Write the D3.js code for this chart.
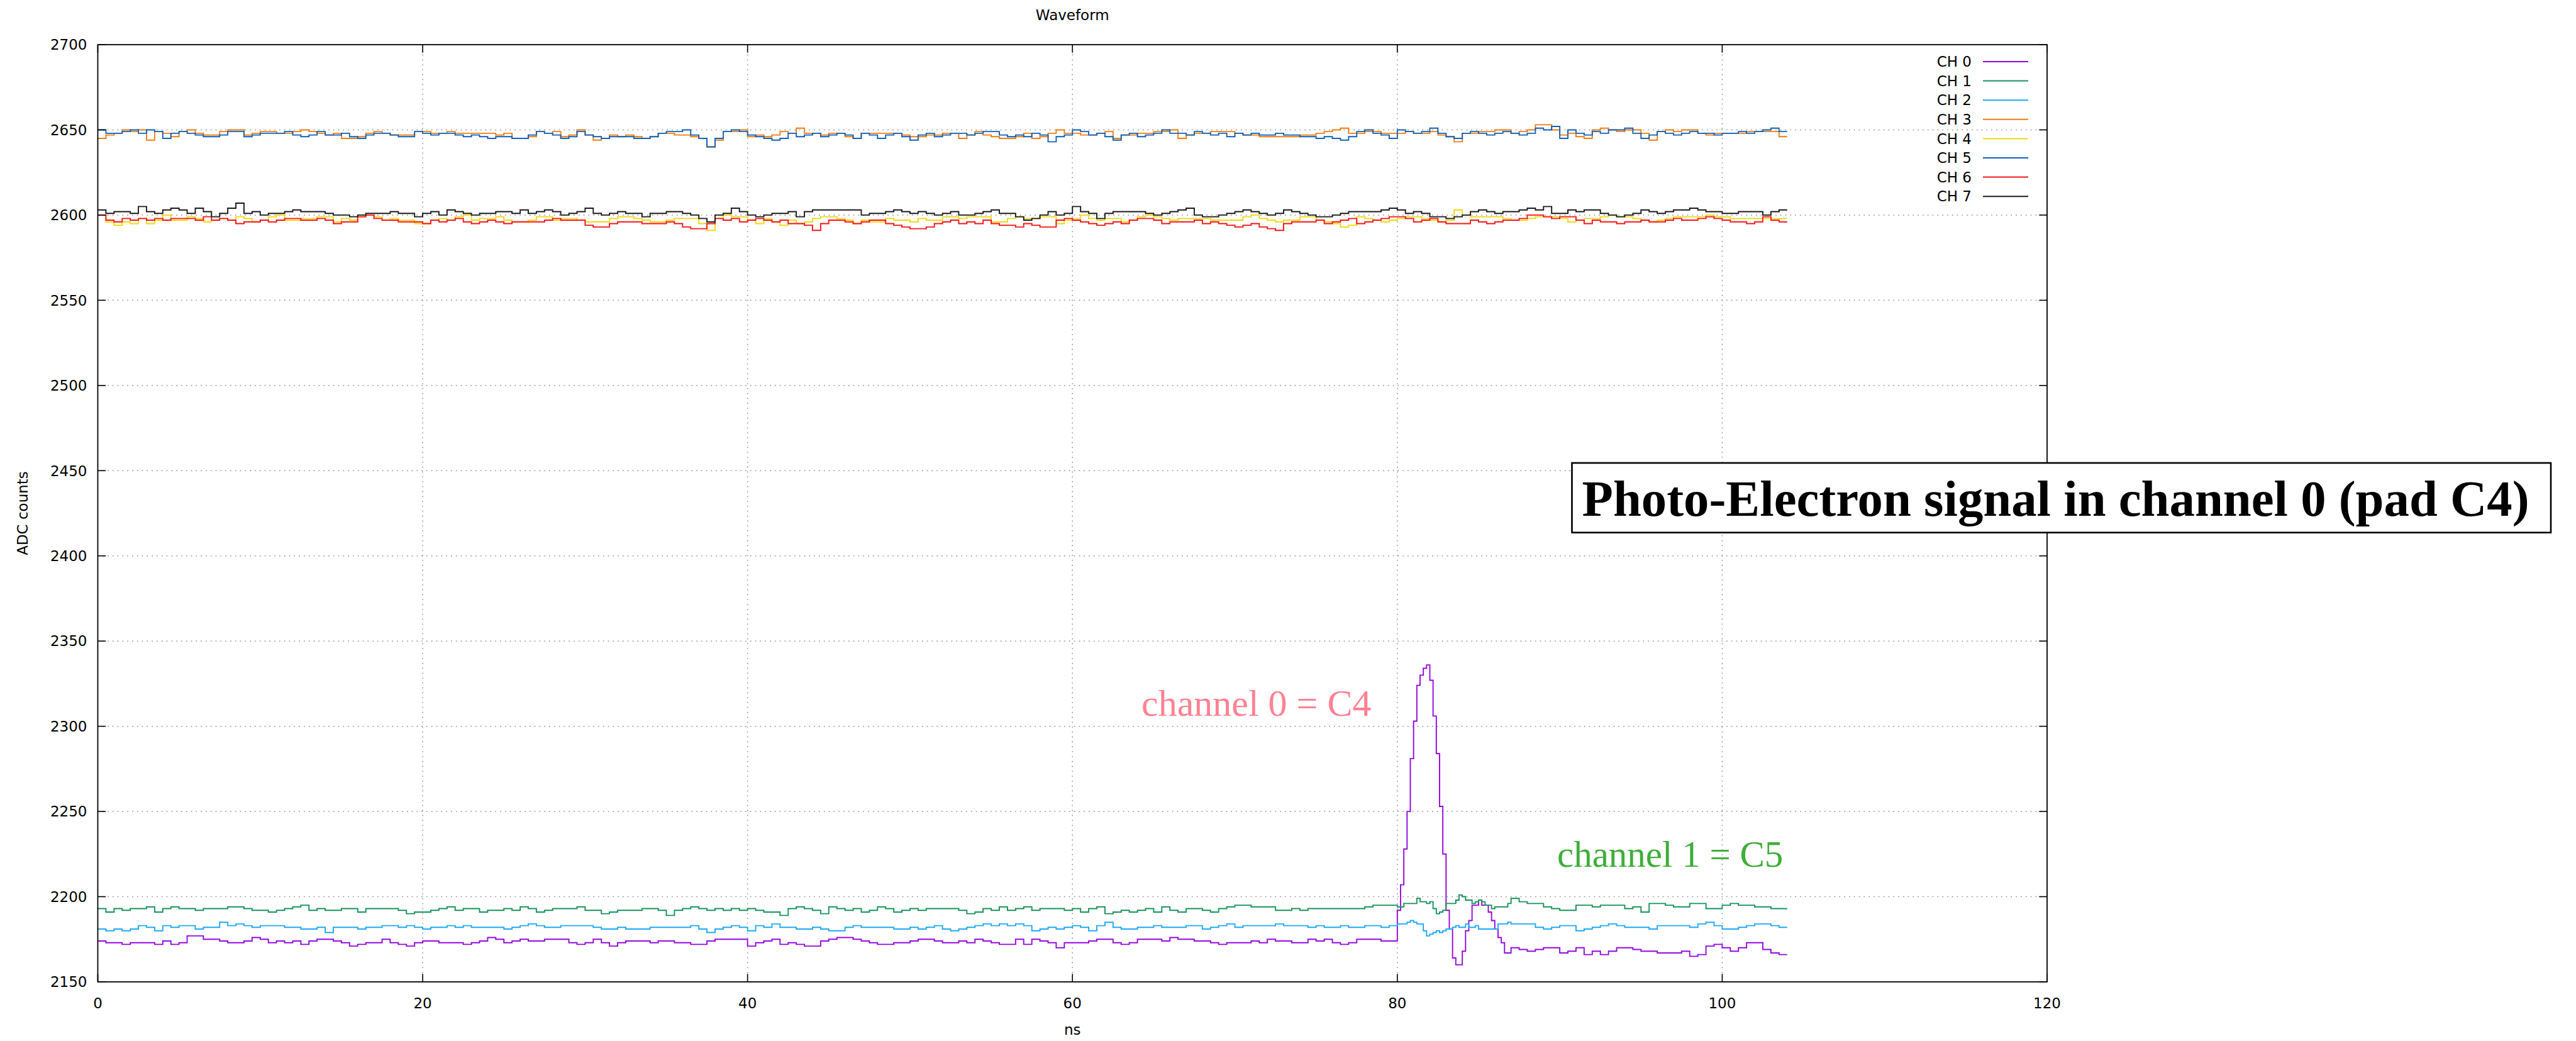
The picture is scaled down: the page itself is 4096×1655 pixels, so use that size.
<!DOCTYPE html>
<html>
<head>
<meta charset="utf-8">
<script src="https://cdnjs.cloudflare.com/ajax/libs/d3/7.8.5/d3.min.js"></script>
<style>
  html, body { margin: 0; padding: 0; background: #fff; }
  svg { display: block; }
</style>
</head>
<body>
<svg id="chart" width="4096" height="1655"></svg>
<script>
// axis ticks
var xTicks = [0, 20, 40, 60, 80, 100, 120];
var yTicks = [2150, 2200, 2250, 2300, 2350, 2400, 2450, 2500, 2550, 2600, 2650, 2700];

var channelNames = ["CH 0", "CH 1", "CH 2", "CH 3", "CH 4", "CH 5", "CH 6", "CH 7"];

// samples every 0.5 ns from 0 to 103.5 ns; null where the fine 0.2 ns pulse data takes over
var COARSE_STEP = 0.5;
var FINE_STEP = 0.2;
var FINE_START = 80;
var END_TIME = 104;

var ch0 = [
  2174, 2173, 2173, 2172, 2173, 2173, 2173, 2172, 2174, 2172,
  2173, 2177, 2177, 2175, 2175, 2174, 2173, 2173, 2174, 2176,
  2175, 2173, 2174, 2173, 2174, 2172, 2174, 2175, 2175, 2174,
  2173, 2171, 2172, 2173, 2173, 2175, 2173, 2172, 2171, 2173,
  2174, 2174, 2173, 2173, 2173, 2172, 2173, 2174, 2176, 2175,
  2173, 2174, 2175, 2174, 2174, 2175, 2175, 2175, 2173, 2172,
  2173, 2175, 2173, 2171, 2173, 2174, 2174, 2174, 2173, 2174,
  2174, 2173, 2173, 2172, 2172, 2174, 2175, 2175, 2175, 2175,
  2171, 2173, 2174, 2175, 2172,
  2173, 2172, 2171, 2171, 2174, 2175, 2176, 2176, 2175, 2174,
  2173, 2172, 2172, 2173, 2173, 2174, 2175, 2175, 2174, 2173,
  2173, 2174, 2173, 2175, 2174, 2173, 2172, 2172, 2175, 2172,
  2175, 2174, 2173, 2170, 2173, 2173, 2173, 2174, 2175, 2175,
  2173, 2172, 2173, 2175, 2175, 2175, 2174, 2176, 2175, 2175,
  2174, 2174, 2173, 2172, 2173, 2173, 2173, 2174, 2173, 2175,
  2174, 2174, 2173, 2173, 2175, 2174, 2175, 2173, 2172, 2173,
  2175, 2175, 2175, 2174, 2174,
  null, null, null, null, null, null, null, null, null, null, null, null, null, null,
  2170, 2169, 2168, 2169, 2170, 2170, 2167, 2168, 2170, 2166,
  2168, 2166, 2168, 2170, 2170, 2169, 2168, 2168, 2167, 2167,
  2167, 2168, 2165, 2166, 2171, 2172, 2170, 2168, 2170, 2173,
  2173, 2169, 2167, 2166
];
var ch0Fine = [
  2192, 2207, 2228, 2250, 2281, 2303, 2324, 2330, 2334, 2336,
  2327, 2306, 2284, 2253, 2225, 2192, 2181, 2164, 2160, 2160,
  2168, 2180, 2186, 2195, 2195, 2198, 2195, 2195, 2191, 2186,
  2181, 2176, 2173, 2167, 2167
];

var ch1 = [
  2193, 2191, 2193, 2192, 2193, 2193, 2194, 2191, 2193, 2194,
  2193, 2193, 2192, 2193, 2193, 2193, 2194, 2194, 2193, 2192,
  2192, 2191, 2192, 2193, 2194, 2195, 2192, 2193, 2192, 2192,
  2193, 2193, 2191, 2193, 2193, 2193, 2193, 2192, 2190, 2191,
  2191, 2192, 2193, 2194, 2192, 2193, 2193, 2191, 2192, 2192,
  2193, 2192, 2194, 2193, 2191, 2192, 2193, 2193, 2193, 2194,
  2192, 2192, 2190, 2191, 2192, 2192, 2192, 2193, 2193, 2192,
  2189, 2192, 2193, 2194, 2193, 2192, 2193, 2192, 2193, 2192,
  2193, 2192, 2191, 2191, 2189,
  2193, 2194, 2193, 2192, 2190, 2194, 2193, 2192, 2193, 2191,
  2192, 2194, 2193, 2191, 2192, 2193, 2192, 2193, 2193, 2193,
  2193, 2192, 2190, 2191, 2193, 2192, 2194, 2192, 2193, 2194,
  2192, 2193, 2193, 2193, 2192, 2193, 2191, 2193, 2194, 2190,
  2191, 2192, 2191, 2192, 2193, 2191, 2194, 2192, 2191, 2193,
  2193, 2192, 2191, 2193, 2194, 2195, 2195, 2194, 2194, 2194,
  2192, 2192, 2193, 2192, 2193, 2193, 2193, 2193, 2193, 2193,
  2193, 2194, 2195, 2195, 2195,
  null, null, null, null, null, null, null, null, null, null, null, null, null, null,
  2199, 2197, 2196, 2196, 2194, 2193, 2192, 2192, 2195, 2195,
  2194, 2195, 2195, 2195, 2193, 2194, 2191, 2196, 2196, 2195,
  2194, 2194, 2196, 2196, 2193, 2193, 2195, 2196, 2195, 2195,
  2194, 2194, 2193, 2193
];
var ch1Fine = [
  2194, 2194, 2196, 2196, 2196, 2196, 2199, 2197, 2197, 2196,
  2197, 2193, 2190, 2191, 2192, 2196, 2196, 2196, 2198, 2201,
  2200, 2198, 2198, 2196, 2197, 2198, 2197, 2195, 2195, 2193,
  2194, 2194, 2194, 2194, 2196
];

var ch2 = [
  2181, 2180, 2181, 2180, 2181, 2183, 2182, 2180, 2183, 2182,
  2183, 2183, 2181, 2182, 2182, 2185, 2183, 2184, 2183, 2182,
  2183, 2183, 2183, 2182, 2182, 2181, 2181, 2182, 2179, 2182,
  2182, 2182, 2181, 2182, 2182, 2183, 2183, 2182, 2183, 2182,
  2181, 2182, 2182, 2183, 2182, 2183, 2182, 2182, 2182, 2182,
  2181, 2182, 2183, 2184, 2183, 2182, 2182, 2183, 2183, 2183,
  2183, 2182, 2181, 2181, 2182, 2181, 2181, 2181, 2182, 2182,
  2182, 2182, 2182, 2183, 2181, 2179, 2181, 2182, 2183, 2182,
  2180, 2183, 2182, 2184, 2182,
  2182, 2181, 2181, 2182, 2181, 2180, 2180, 2182, 2183, 2182,
  2182, 2182, 2182, 2181, 2181, 2182, 2181, 2182, 2183, 2181,
  2180, 2181, 2182, 2183, 2184, 2183, 2184, 2183, 2184, 2183,
  2180, 2181, 2182, 2181, 2182, 2183, 2182, 2180, 2183, 2185,
  2182, 2181, 2181, 2182, 2182, 2183, 2182, 2182, 2182, 2183,
  2183, 2181, 2182, 2183, 2184, 2182, 2183, 2183, 2183, 2183,
  2184, 2183, 2183, 2183, 2182, 2183, 2182, 2182, 2183, 2182,
  2182, 2183, 2183, 2182, 2183,
  null, null, null, null, null, null, null, null, null, null, null, null, null, null,
  2184, 2184, 2184, 2182, 2181, 2182, 2183, 2183, 2180, 2181,
  2182, 2183, 2184, 2183, 2182, 2182, 2182, 2181, 2183, 2183,
  2183, 2183, 2182, 2184, 2185, 2183, 2181, 2181, 2182, 2183,
  2184, 2184, 2183, 2182
];
var ch2Fine = [
  2184, 2184, 2184, 2185, 2186, 2185, 2184, 2184, 2180, 2177,
  2178, 2179, 2180, 2179, 2180, 2181, 2181, 2182, 2183, 2182,
  2182, 2184, 2182, 2182, 2183, 2181, 2181, 2181, 2181, 2181,
  2181, 2184, 2184, 2184, 2185
];

var ch3 = [
  2645, 2647, 2648, 2650, 2649, 2650, 2644, 2649, 2648, 2646,
  2649, 2650, 2648, 2647, 2647, 2649, 2650, 2650, 2647, 2648,
  2649, 2649, 2648, 2648, 2649, 2650, 2649, 2648, 2647, 2648,
  2645, 2645, 2646, 2648, 2649, 2648, 2647, 2647, 2647, 2649,
  2649, 2648, 2648, 2649, 2648, 2648, 2648, 2648, 2648, 2647,
  2648, 2645, 2645, 2646, 2649, 2648, 2649, 2646, 2647, 2650,
  2647, 2644, 2645, 2647, 2646, 2647, 2646, 2645, 2646, 2648,
  2648, 2647, 2647, 2646, 2645, 2640, 2644, 2649, 2649, 2650,
  2646, 2647, 2646, 2647, 2649,
  2648, 2651, 2648, 2648, 2647, 2648, 2648, 2646, 2645, 2648,
  2648, 2648, 2648, 2648, 2647, 2646, 2646, 2647, 2647, 2648,
  2648, 2645, 2647, 2649, 2647, 2646, 2645, 2645, 2646, 2648,
  2645, 2646, 2648, 2650, 2648, 2648, 2647, 2647, 2648, 2649,
  2645, 2647, 2647, 2648, 2648, 2649, 2649, 2650, 2645, 2647,
  2648, 2648, 2649, 2649, 2649, 2648, 2647, 2647, 2646, 2646,
  2646, 2646, 2646, 2647, 2647, 2648, 2649, 2650, 2651, 2648,
  2648, 2649, 2649, 2648, 2648, 2648, 2649, 2648, 2648, 2649,
  2647, 2646, 2643, 2648, 2648, 2649, 2649, 2650, 2650, 2648,
  2649, 2650, 2653, 2653, 2650, 2647, 2648, 2646, 2645, 2650,
  2651, 2650, 2649, 2650, 2650, 2648, 2644, 2649, 2650, 2649,
  2650, 2650, 2648, 2647, 2648, 2648, 2648, 2648, 2649, 2649,
  2649, 2649, 2646
];

var ch4 = [
  2600, 2596, 2594, 2596, 2595, 2598, 2595, 2597, 2600, 2597,
  2597, 2599, 2598, 2596, 2597, 2598, 2597, 2599, 2598, 2596,
  2597, 2599, 2600, 2597, 2597, 2598, 2598, 2599, 2599, 2596,
  2598, 2597, 2599, 2600, 2599, 2597, 2598, 2597, 2597, 2595,
  2595, 2597, 2598, 2597, 2599, 2600, 2597, 2598, 2598, 2599,
  2597, 2596, 2596, 2597, 2599, 2599, 2597, 2598, 2598, 2597,
  2596, 2596, 2596, 2598, 2599, 2599, 2598, 2597, 2596, 2596,
  2597, 2598, 2598, 2598, 2595, 2591, 2598, 2600, 2599, 2599,
  2597, 2595, 2598, 2596, 2594,
  2597, 2595, 2596, 2598, 2599, 2599, 2598, 2597, 2595, 2597,
  2596, 2596, 2598, 2597, 2597, 2596, 2598, 2597, 2597, 2599,
  2599, 2598, 2599, 2599, 2599, 2596, 2596, 2598, 2599, 2598,
  2598, 2599, 2599, 2595, 2597, 2598, 2600, 2598, 2597, 2598,
  2598, 2596, 2597, 2599, 2600, 2599, 2598, 2597, 2598, 2598,
  2598, 2598, 2597, 2597, 2597, 2597, 2599, 2600, 2598, 2597,
  2596, 2597, 2597, 2599, 2599, 2597, 2596, 2595, 2593, 2594,
  2599, 2598, 2597, 2596, 2597, 2598, 2599, 2599, 2598, 2597,
  2596, 2597, 2603, 2600, 2599, 2599, 2599, 2599, 2598, 2597,
  2597, 2598, 2599, 2599, 2599, 2598, 2596, 2597, 2598, 2598,
  2599, 2600, 2599, 2599, 2598, 2597, 2596, 2597, 2598, 2599,
  2599, 2599, 2599, 2600, 2599, 2599, 2598, 2598, 2598, 2598,
  2598, 2598, 2598
];

var ch5 = [
  2650, 2648, 2648, 2649, 2650, 2648, 2650, 2649, 2645, 2648,
  2649, 2648, 2647, 2646, 2646, 2647, 2649, 2649, 2646, 2647,
  2648, 2648, 2648, 2649, 2647, 2646, 2647, 2649, 2647, 2647,
  2648, 2646, 2645, 2647, 2648, 2648, 2647, 2646, 2646, 2649,
  2648, 2647, 2648, 2648, 2647, 2646, 2647, 2646, 2645, 2646,
  2646, 2645, 2645, 2647, 2649, 2648, 2647, 2645, 2646, 2649,
  2647, 2646, 2645, 2646, 2646, 2646, 2645, 2645, 2646, 2648,
  2649, 2649, 2650, 2647, 2645, 2640, 2645, 2649, 2650, 2649,
  2647, 2646, 2645, 2644, 2645,
  2648, 2646, 2647, 2648, 2646, 2647, 2648, 2647, 2645, 2648,
  2647, 2645, 2647, 2648, 2646, 2644, 2647, 2648, 2646, 2647,
  2648, 2648, 2647, 2648, 2649, 2649, 2647, 2646, 2647, 2646,
  2648, 2647, 2643, 2646, 2647, 2650, 2649, 2647, 2648, 2646,
  2644, 2647, 2648, 2646, 2647, 2648, 2650, 2648, 2648, 2647,
  2649, 2648, 2647, 2648, 2646, 2648, 2647, 2648, 2647, 2647,
  2648, 2647, 2647, 2646, 2646, 2645, 2646, 2645, 2644, 2646,
  2649, 2650, 2648, 2647, 2645, 2650, 2649, 2648, 2649, 2651,
  2648, 2646, 2645, 2648, 2649, 2648, 2647, 2648, 2649, 2648,
  2647, 2648, 2651, 2650, 2652, 2645, 2650, 2648, 2647, 2649,
  2648, 2650, 2650, 2651, 2648, 2645, 2647, 2649, 2648, 2647,
  2648, 2649, 2648, 2648, 2647, 2648, 2648, 2649, 2648, 2649,
  2650, 2651, 2649
];

var ch6 = [
  2600, 2597, 2596, 2598, 2597, 2598, 2597, 2598, 2597, 2598,
  2598, 2598, 2597, 2599, 2597, 2598, 2597, 2595, 2596, 2596,
  2597, 2596, 2597, 2598, 2598, 2597, 2597, 2598, 2597, 2595,
  2596, 2596, 2599, 2600, 2598, 2597, 2597, 2596, 2596, 2596,
  2595, 2597, 2596, 2597, 2598, 2596, 2595, 2596, 2597, 2596,
  2595, 2596, 2596, 2596, 2596, 2597, 2598, 2597, 2597, 2597,
  2594, 2593, 2593, 2595, 2596, 2596, 2596, 2595, 2595, 2595,
  2596, 2595, 2593, 2592, 2592, 2595, 2598, 2597, 2598, 2596,
  2597, 2598, 2597, 2596, 2597,
  2595, 2595, 2594, 2591, 2595, 2597, 2597, 2596, 2595, 2596,
  2597, 2597, 2595, 2594, 2593, 2592, 2592, 2593, 2595, 2596,
  2597, 2595, 2596, 2595, 2597, 2595, 2594, 2594, 2593, 2595,
  2594, 2593, 2593, 2597, 2598, 2597, 2596, 2595, 2594, 2595,
  2596, 2595, 2597, 2598, 2598, 2597, 2595, 2596, 2596, 2596,
  2597, 2595, 2596, 2595, 2594, 2593, 2594, 2595, 2593, 2592,
  2591, 2595, 2596, 2596, 2596, 2597, 2595, 2596, 2597, 2598,
  2595, 2596, 2597, 2598, 2599, 2599, 2598, 2596, 2597, 2598,
  2596, 2595, 2595, 2595, 2597, 2596, 2595, 2596, 2597, 2597,
  2598, 2600, 2600, 2599, 2598, 2599, 2599, 2597, 2595, 2597,
  2596, 2596, 2595, 2596, 2596, 2597, 2596, 2596, 2597, 2598,
  2597, 2597, 2598, 2599, 2598, 2597, 2596, 2596, 2595, 2596,
  2599, 2597, 2596
];

var ch7 = [
  2603, 2601, 2602, 2602, 2601, 2605, 2602, 2601, 2603, 2604,
  2603, 2601, 2604, 2602, 2599, 2601, 2604, 2607, 2601, 2602,
  2600, 2601, 2601, 2602, 2603, 2602, 2602, 2602, 2601, 2600,
  2600, 2599, 2600, 2601, 2601, 2601, 2602, 2601, 2601, 2599,
  2601, 2602, 2600, 2603, 2602, 2601, 2600, 2601, 2601, 2602,
  2602, 2601, 2603, 2601, 2602, 2603, 2602, 2600, 2601, 2602,
  2604, 2601, 2600, 2601, 2602, 2601, 2601, 2599, 2601, 2601,
  2602, 2602, 2601, 2600, 2598, 2596, 2600, 2601, 2604, 2602,
  2600, 2599, 2600, 2601, 2601,
  2602, 2599, 2602, 2603, 2603, 2603, 2603, 2603, 2603, 2600,
  2601, 2601, 2602, 2603, 2602, 2601, 2602, 2601, 2600, 2601,
  2602, 2600, 2600, 2601, 2602, 2603, 2601, 2601, 2599, 2597,
  2598, 2600, 2602, 2600, 2601, 2605, 2602, 2601, 2598, 2601,
  2602, 2602, 2602, 2602, 2601, 2600, 2601, 2602, 2603, 2604,
  2600, 2599, 2599, 2600, 2601, 2602, 2603, 2602, 2601, 2600,
  2601, 2603, 2602, 2601, 2600, 2599, 2599, 2600, 2601, 2602,
  2602, 2602, 2602, 2603, 2604, 2603, 2601, 2602, 2601, 2599,
  2599, 2598, 2599, 2600, 2602, 2603, 2602, 2601, 2602, 2602,
  2603, 2604, 2603, 2605, 2601, 2601, 2603, 2602, 2603, 2603,
  2601, 2600, 2599, 2600, 2601, 2603, 2602, 2601, 2602, 2603,
  2603, 2604, 2603, 2602, 2602, 2601, 2601, 2602, 2602, 2602,
  2600, 2602, 2603
];

var channels = [
  { name: channelNames[0], coarse: ch0, fine: ch0Fine, color: "#9208de" },
  { name: channelNames[1], coarse: ch1, fine: ch1Fine, color: "#15935a" },
  { name: channelNames[2], coarse: ch2, fine: ch2Fine, color: "#1ea8f4" },
  { name: channelNames[3], coarse: ch3, fine: null, color: "#f07d12" },
  { name: channelNames[4], coarse: ch4, fine: null, color: "#f2d80c" },
  { name: channelNames[5], coarse: ch5, fine: null, color: "#1261b8" },
  { name: channelNames[6], coarse: ch6, fine: null, color: "#fa1414" },
  { name: channelNames[7], coarse: ch7, fine: null, color: "#1a1a1a" }
];

function buildSeries(coarse, fine) {
  var pts = [];
  coarse.forEach(function (v, i) {
    if (v !== null) pts.push([i * COARSE_STEP, v]);
  });
  if (fine) {
    fine.forEach(function (v, j) {
      pts.push([FINE_START + j * FINE_STEP, v]);
    });
  }
  pts.sort(function (a, b) { return a[0] - b[0]; });
  pts.push([END_TIME, pts[pts.length - 1][1]]);
  return pts;
}

var svg = d3.select("#chart");
var plot = { left: 155.5, top: 71, right: 3255, bottom: 1561 };
var fontSans = "'DejaVu Sans', sans-serif";

var x = d3.scaleLinear().domain([0, 120]).range([plot.left, plot.right]);
var y = d3.scaleLinear().domain([2150, 2700]).range([plot.bottom, plot.top]);

svg.append("rect").attr("width", 4096).attr("height", 1655).attr("fill", "#fff");

// grid
var grid = svg.append("g").attr("stroke", "#8a8a8a").attr("stroke-width", 1.5)
  .attr("stroke-dasharray", "1.6,6.2");
grid.selectAll("line.gx").data(xTicks.slice(1, -1)).enter().append("line")
  .attr("x1", function (d) { return x(d); }).attr("x2", function (d) { return x(d); })
  .attr("y1", plot.top).attr("y2", plot.bottom);
grid.selectAll("line.gy").data(yTicks.slice(1, -1)).enter().append("line")
  .attr("y1", function (d) { return y(d); }).attr("y2", function (d) { return y(d); })
  .attr("x1", plot.left).attr("x2", plot.right);

// waveforms
var line = d3.line()
  .x(function (d) { return x(d[0]); })
  .y(function (d) { return y(d[1]); })
  .curve(d3.curveStepAfter);

svg.append("g").selectAll("path").data(channels).enter().append("path")
  .attr("fill", "none")
  .attr("stroke", function (d) { return d.color; })
  .attr("stroke-width", 1.9)
  .attr("d", function (d) { return line(buildSeries(d.coarse, d.fine)); });

// border and inward ticks on all sides
var tickLen = 12.7;
var ticks = svg.append("g").attr("stroke", "#000").attr("stroke-width", 1.6);
xTicks.forEach(function (t) {
  ticks.append("line").attr("x1", x(t)).attr("x2", x(t)).attr("y1", plot.bottom).attr("y2", plot.bottom - tickLen);
  ticks.append("line").attr("x1", x(t)).attr("x2", x(t)).attr("y1", plot.top).attr("y2", plot.top + tickLen);
});
yTicks.forEach(function (t) {
  ticks.append("line").attr("y1", y(t)).attr("y2", y(t)).attr("x1", plot.left).attr("x2", plot.left + tickLen);
  ticks.append("line").attr("y1", y(t)).attr("y2", y(t)).attr("x1", plot.right).attr("x2", plot.right - tickLen);
});
svg.append("rect")
  .attr("x", plot.left).attr("y", plot.top)
  .attr("width", plot.right - plot.left).attr("height", plot.bottom - plot.top)
  .attr("fill", "none").attr("stroke", "#000").attr("stroke-width", 1.8);

// tick labels
svg.append("g").selectAll("text").data(xTicks).enter().append("text")
  .attr("x", function (d) { return x(d); })
  .attr("y", 1595).attr("dy", "0.36em")
  .attr("text-anchor", "middle")
  .attr("font-family", fontSans).attr("font-size", 23)
  .text(function (d) { return d; });
svg.append("g").selectAll("text").data(yTicks).enter().append("text")
  .attr("x", plot.left - 17)
  .attr("y", function (d) { return y(d); }).attr("dy", "0.36em")
  .attr("text-anchor", "end")
  .attr("font-family", fontSans).attr("font-size", 23)
  .text(function (d) { return d; });

// titles
svg.append("text").attr("x", (plot.left + plot.right) / 2).attr("y", 24).attr("dy", "0.36em")
  .attr("text-anchor", "middle").attr("font-family", fontSans).attr("font-size", 23)
  .text("Waveform");
svg.append("text").attr("x", (plot.left + plot.right) / 2).attr("y", 1645)
  .attr("text-anchor", "middle").attr("font-family", fontSans).attr("font-size", 23)
  .text("ns");
svg.append("text")
  .attr("transform", "translate(36," + ((plot.top + plot.bottom) / 2) + ") rotate(-90)")
  .attr("dy", "0.36em")
  .attr("text-anchor", "middle").attr("font-family", fontSans).attr("font-size", 23)
  .text("ADC counts");

// legend
var legend = svg.append("g").selectAll("g").data(channels).enter().append("g")
  .attr("transform", function (d, i) { return "translate(0," + (98 + i * 30.6) + ")"; });
legend.append("text").attr("x", 3135).attr("dy", "0.36em")
  .attr("text-anchor", "end").attr("font-family", fontSans).attr("font-size", 23)
  .text(function (d) { return d.name; });
legend.append("line").attr("x1", 3153).attr("x2", 3225)
  .attr("stroke", function (d) { return d.color; }).attr("stroke-width", 2);

// annotations
svg.append("text").attr("x", 1815).attr("y", 1138)
  .attr("font-family", "'Liberation Serif', serif").attr("font-size", 60)
  .attr("fill", "#ff8293")
  .text("channel 0 = C4");
svg.append("text").attr("x", 2476).attr("y", 1378)
  .attr("font-family", "'Liberation Serif', serif").attr("font-size", 59)
  .attr("fill", "#3fae3a")
  .text("channel 1 = C5");

svg.append("rect").attr("x", 2499.5).attr("y", 736).attr("width", 1556.5).attr("height", 110.7)
  .attr("fill", "#fff").attr("stroke", "#000").attr("stroke-width", 2.6);
svg.append("text").attr("x", 2515.6).attr("y", 819.7)
  .attr("font-family", "'Liberation Serif', serif").attr("font-weight", "bold").attr("font-size", 80.7)
  .attr("textLength", 1506).attr("lengthAdjust", "spacingAndGlyphs")
  .text("Photo-Electron signal in channel 0 (pad C4)");
</script>
